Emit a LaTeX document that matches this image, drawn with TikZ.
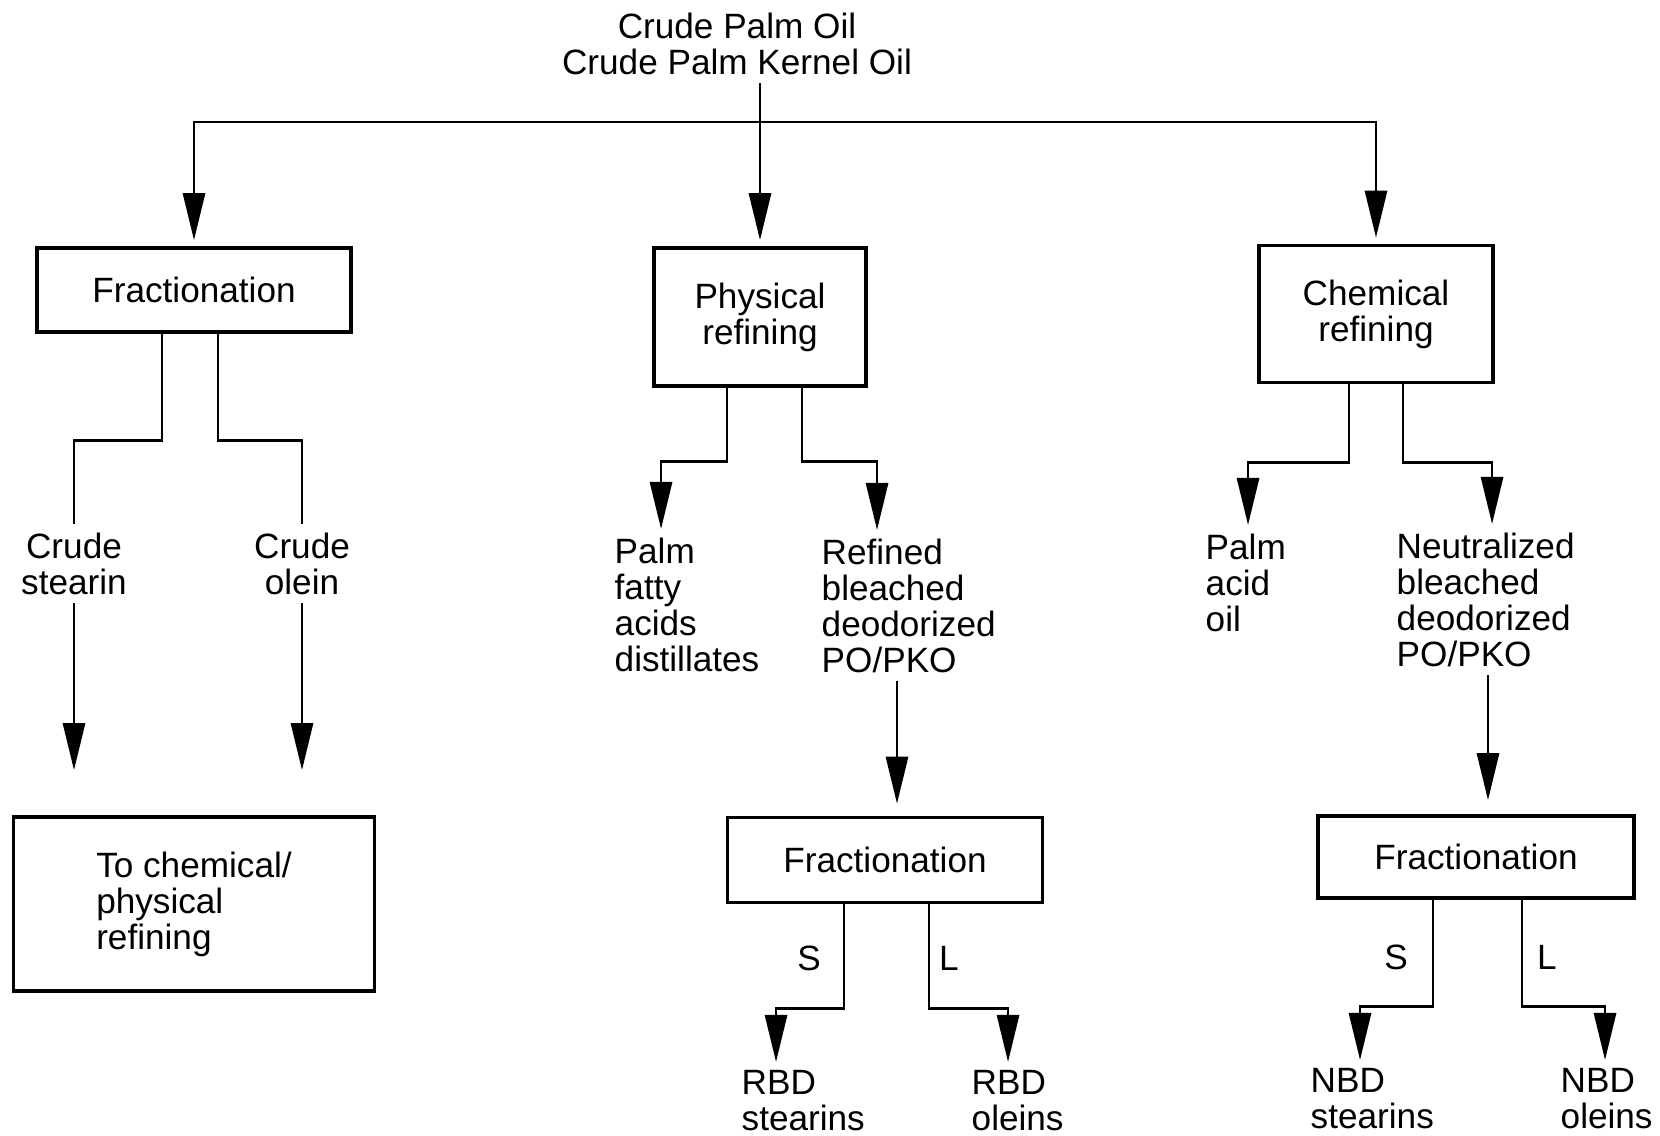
\documentclass[tikz,border=0pt]{standalone}
\usepackage{fontspec}
\setmainfont{Liberation Sans}
\usetikzlibrary{arrows.meta}

\begin{document}
\begin{tikzpicture}[x=0.01cm, y=-0.01cm]
	% formats
	\tikzstyle{every node}=[font=\fontsize{10}{10.25}\selectfont]
	\tikzstyle{box} = [draw, line width=1pt, align=center, inner sep=0pt]
	\tikzstyle{txt} = [inner sep=0.08cm]
	\tikzstyle{line} = [line width=0.8pt]
	\tikzstyle{arrow} = [line, -{Triangle[length=0.47cm, width=0.22cm]}]
	\useasboundingbox (0,0) rectangle (1660,1136);
	% nodes
	\node [txt, align=center, anchor=north] (oil) at (737,4) {Crude Palm Oil\\Crude Palm Kernel Oil};
	\coordinate (split) at (760,122);
	\node [box, minimum width=3.14cm, minimum height=0.84cm] (frac1) at (194,290) {Fractionation};
	\node [box, minimum width=2.12cm, minimum height=1.38cm] (phys) at (760,317) {Physical\\refining};
	\node [box, minimum width=2.34cm, minimum height=1.37cm] (chem) at (1376,314) {Chemical\\refining};
	\node [txt, align=center, anchor=north] (cstear) at (74,524) {Crude\\stearin};
	\node [txt, align=center, anchor=north] (colein) at (302,524) {Crude\\olein};
	\node [box, align=left, minimum width=3.61cm, minimum height=1.74cm] (tochem) at (194,904) {To chemical/\\physical\\refining};
	\node [txt, align=left, anchor=north west] (pfad) at (606,529) {Palm\\fatty\\acids\\distillates};
	\node [txt, align=left, anchor=north west] (rbdpo) at (813,530) {Refined\\bleached\\deodorized\\PO/PKO};
	\node [txt, align=left, anchor=north west] (pao) at (1197,525) {Palm\\acid\\oil};
	\node [txt, align=left, anchor=north west] (nbdpo) at (1388,524) {Neutralized\\bleached\\deodorized\\PO/PKO};
	\node [box, minimum width=3.15cm, minimum height=0.85cm] (frac2) at (885,860) {Fractionation};
	\node [box, minimum width=3.16cm, minimum height=0.82cm] (frac3) at (1476,857) {Fractionation};
	\node [txt] (s2) at (809,958) {S};
	\node [txt] (l2) at (949,958) {L};
	\node [txt] (s3) at (1396,957) {S};
	\node [txt] (l3) at (1547,957) {L};
	\node [txt, align=left, anchor=north west] (rbds) at (733,1062) {RBD\\stearins};
	\node [txt, align=left, anchor=north west] (rbdo) at (963,1062) {RBD\\oleins};
	\node [txt, align=left, anchor=north west] (nbds) at (1302,1060) {NBD\\stearins};
	\node [txt, align=left, anchor=north west] (nbdo) at (1552,1060) {NBD\\oleins};
	% relations
	\draw [line] (oil.south -| split) -- (split);
	\draw [arrow, shorten >=0.06cm] (split) -| (frac1.north);
	\draw [arrow, shorten >=0.06cm] (split) -- (phys.north);
	\draw [arrow, shorten >=0.06cm] (split) -| (chem.north);
	\draw [line] (frac1.south) ++(-32,0) -- ++(0,107) -| (cstear.north);
	\draw [line] (frac1.south) ++(24,0) -- ++(0,107) -| (colein.north);
	\draw [arrow, shorten >=0.45cm] (cstear.south) -- (cstear.south |- tochem.north);
	\draw [arrow, shorten >=0.45cm] (colein.south) -- (colein.south |- tochem.north);
	\draw [arrow] (phys.south) ++(-33,0) -- ++(0,74) -| ([xshift=0.55cm]pfad.north west);
	\draw [arrow] (phys.south) ++(42,0) -- ++(0,74) -| ([xshift=0.64cm]rbdpo.north west);
	\draw [arrow, shorten >=0.12cm] (rbdpo.south west) ++(84,0) coordinate (r1) -- (r1 |- frac2.north);
	\draw [arrow] (chem.south) ++(-27,0) -- ++(0,78) -| ([xshift=0.51cm]pao.north west);
	\draw [arrow] (chem.south) ++(27,0) -- ++(0,78) -| ([xshift=1.04cm]nbdpo.north west);
	\draw [arrow, shorten >=0.14cm] (nbdpo.south west) ++(100,0) coordinate (r2) -- (r2 |- frac3.north);
	\draw [arrow] (frac2.south) ++(-41,0) -- ++(0,104) -| ([xshift=0.43cm]rbds.north west);
	\draw [arrow] (frac2.south) ++(44,0) -- ++(0,104) -| ([xshift=0.45cm]rbdo.north west);
	\draw [arrow] (frac3.south) ++(-43,0) -- ++(0,107) -| ([xshift=0.58cm]nbds.north west);
	\draw [arrow] (frac3.south) ++(46,0) -- ++(0,107) -| ([xshift=0.53cm]nbdo.north west);
\end{tikzpicture}
\end{document}
